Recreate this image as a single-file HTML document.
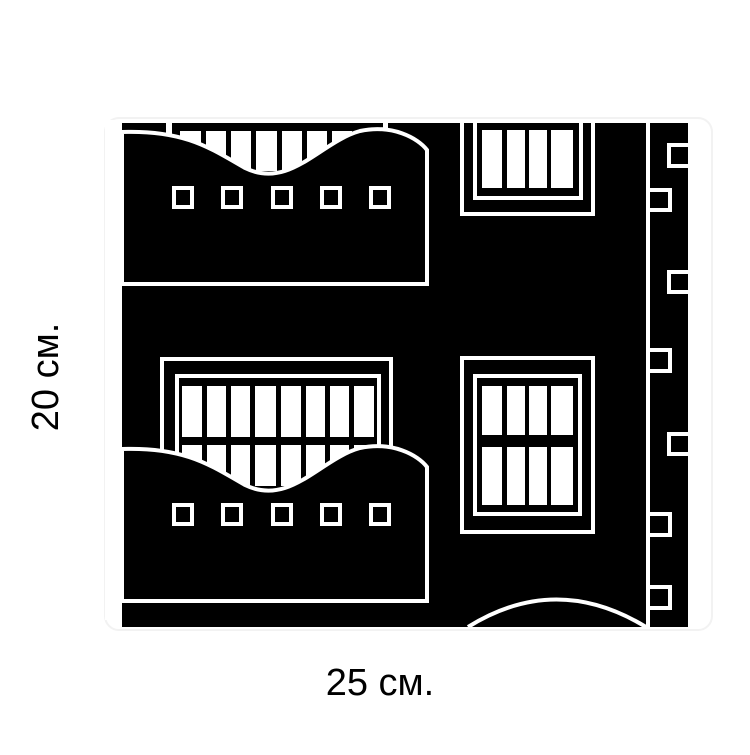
<!DOCTYPE html>
<html><head><style>body{margin:0;background:#fff}</style></head><body>
<svg width="750" height="750" viewBox="0 0 750 750" xmlns="http://www.w3.org/2000/svg">
<rect x="105" y="118" width="607" height="512" rx="14" fill="#fff" stroke="#f2f2f2" stroke-width="2"/>
<rect x="122" y="123" width="566" height="504" fill="#000"/>
<g fill="none" stroke="#fff" stroke-width="4">
<line x1="122" y1="284" x2="427" y2="284"/>
<line x1="122" y1="600" x2="427" y2="600"/>
</g>
<g fill="#fff">
<rect x="166" y="123" width="6" height="40"/>
<rect x="180" y="131" width="21" height="40"/>
<rect x="206" y="131" width="20" height="40"/>
<rect x="231" y="131" width="20" height="40"/>
<rect x="256" y="131" width="21" height="40"/>
<rect x="282" y="131" width="20" height="40"/>
<rect x="307" y="131" width="20" height="40"/>
<rect x="332" y="131" width="20" height="40"/>
<rect x="357" y="131" width="20" height="40"/>
<rect x="383" y="123" width="5" height="40"/>
</g>
<g fill="none" stroke="#fff" stroke-width="4">
<path d="M162,470 V359 H391 V470"/>
<path d="M177,470 V376 H379 V470"/>
</g>
<g fill="#fff">
<rect x="182" y="386" width="20" height="100"/>
<rect x="207" y="386" width="19" height="100"/>
<rect x="231" y="386" width="19" height="100"/>
<rect x="255" y="386" width="21" height="100"/>
<rect x="281" y="386" width="20" height="100"/>
<rect x="306" y="386" width="19" height="100"/>
<rect x="330" y="386" width="19" height="100"/>
<rect x="354" y="386" width="20" height="100"/>
</g>
<rect x="180" y="437" width="196" height="8" fill="#000"/>
<g id="b">
<path d="M122,132 C185,130 210,148 245,168 C290,190 320,142 360,131 C392,124 418,138 427,150 L427,284 L122,284 Z" fill="#000" stroke="#fff" stroke-width="4"/>
<g fill="none" stroke="#fff" stroke-width="4">
<rect x="174" y="188" width="18" height="19"/>
<rect x="223" y="188" width="18" height="19"/>
<rect x="273" y="188" width="18" height="19"/>
<rect x="322" y="188" width="18" height="19"/>
<rect x="371" y="188" width="18" height="19"/>
</g>
</g>
<use href="#b" transform="translate(0,317)"/>
<rect x="105" y="120" width="17" height="500" fill="#fff"/>
<g fill="none" stroke="#fff" stroke-width="4">
<path d="M462,123 V214 H593 V123"/>
<path d="M475,123 V198 H581 V123"/>
<rect x="462" y="358" width="131" height="174"/>
<rect x="475" y="376" width="105" height="138"/>
</g>
<g fill="#fff">
<rect x="482" y="130" width="20" height="58"/>
<rect x="507" y="130" width="18" height="58"/>
<rect x="529" y="130" width="18" height="58"/>
<rect x="551" y="130" width="22" height="58"/>
<rect x="482" y="386" width="20" height="49"/>
<rect x="507" y="386" width="18" height="49"/>
<rect x="529" y="386" width="18" height="49"/>
<rect x="551" y="386" width="22" height="49"/>
<rect x="482" y="447" width="20" height="58"/>
<rect x="507" y="447" width="18" height="58"/>
<rect x="529" y="447" width="18" height="58"/>
<rect x="551" y="447" width="22" height="58"/>
</g>
<g fill="none" stroke="#fff" stroke-width="4">
<line x1="648" y1="123" x2="648" y2="627"/>
<path d="M690,145 H669 V166 H690"/>
<rect x="648" y="190" width="22" height="20"/>
<path d="M690,272 H669 V292 H690"/>
<rect x="648" y="350" width="22" height="21"/>
<path d="M690,434 H669 V454 H690"/>
<rect x="648" y="514" width="22" height="21"/>
<rect x="648" y="587" width="22" height="21"/>
<path d="M468,627 Q556,572 646,627"/>
</g>
<text x="380" y="695" font-family="Liberation Sans, sans-serif" font-size="38" text-anchor="middle" fill="#000">25 см.</text>
<text transform="translate(58,377) rotate(-90)" font-family="Liberation Sans, sans-serif" font-size="38" text-anchor="middle" fill="#000">20 см.</text>
</svg>
</body></html>
